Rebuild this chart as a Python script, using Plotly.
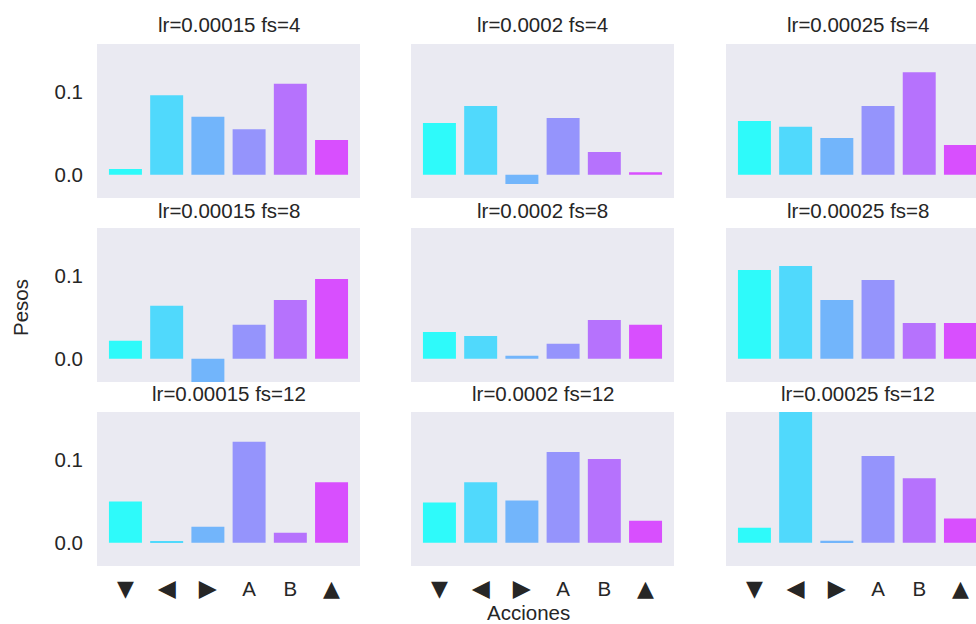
import plotly.graph_objects as go

# Action labels on the x axis
acciones = ["▼", "◀", "▶", "A", "B", "▲"]

# Hyper-parameter grid
learning_rates = ["0.00015", "0.0002", "0.00025"]
frame_skips = [4, 8, 12]

# Weights per (fs, lr) panel, one value per action
pesos_fs4_lr00015 = [0.007, 0.096, 0.070, 0.055, 0.110, 0.042]
pesos_fs4_lr0002 = [0.0625, 0.083, -0.011, 0.0685, 0.0275, 0.0032]
pesos_fs4_lr00025 = [0.065, 0.058, 0.0445, 0.083, 0.124, 0.036]

pesos_fs8_lr00015 = [0.0217, 0.064, -0.030, 0.041, 0.071, 0.0964]
pesos_fs8_lr0002 = [0.0325, 0.0277, 0.0036, 0.0181, 0.047, 0.041]
pesos_fs8_lr00025 = [0.1072, 0.112, 0.071, 0.0952, 0.0434, 0.0434]

pesos_fs12_lr00015 = [0.050, 0.0012, 0.0195, 0.122, 0.0122, 0.0732]
pesos_fs12_lr0002 = [0.0488, 0.0732, 0.0512, 0.1098, 0.1012, 0.0268]
pesos_fs12_lr00025 = [0.0183, 0.170, 0.0024, 0.1049, 0.078, 0.0293]

pesos = [
    [pesos_fs4_lr00015, pesos_fs4_lr0002, pesos_fs4_lr00025],
    [pesos_fs8_lr00015, pesos_fs8_lr0002, pesos_fs8_lr00025],
    [pesos_fs12_lr00015, pesos_fs12_lr0002, pesos_fs12_lr00025],
]

colores = ["#2efafa", "#50d9fc", "#72b5fb", "#9594fc", "#b672fd", "#d84ffe"]

W, H = 976, 624
FONT = "Liberation Sans, Arial, DejaVu Sans, sans-serif"
TXT = "#262626"
BG = "#eaeaf2"

# Panel geometry in pixels
col_px = [(97, 360), (411, 674), (726, 976)]
row_px = [(44, 198), (228, 382), (412, 566)]
title_y_px = [25, 210, 393]
x_ranges = [[-0.69, 5.69], [-0.69, 5.69], [-0.69, 5.378]]
y_range = [-0.028, 0.158]


def px_x(x):
    return x / W


def px_y(y):
    return 1 - y / H


def etiqueta(t):
    # arrow glyphs rendered with DejaVu Sans so they keep a solid, full size
    if t.isalpha():
        return t
    size = 23.5 if t in ("◀", "▶") else 22
    return f'<span style="font-family:DejaVu Sans;font-size:{size}px">{t}</span>'


fig = go.Figure()
annotations = []
layout_axes = {}

for r in range(3):
    for c in range(3):
        idx = r * 3 + c + 1
        xa = "x" if idx == 1 else f"x{idx}"
        ya = "y" if idx == 1 else f"y{idx}"
        fig.add_trace(go.Bar(
            x=list(range(len(acciones))),
            y=pesos[r][c],
            marker=dict(color=colores, line=dict(width=0)),
            xaxis=xa, yaxis=ya,
            showlegend=False,
        ))
        x0, x1 = col_px[c]
        y0, y1 = row_px[r]
        layout_axes[f"xaxis{'' if idx == 1 else idx}"] = dict(
            domain=[px_x(x0), px_x(x1)],
            anchor=ya,
            range=x_ranges[c],
            tickvals=list(range(len(acciones))),
            ticktext=[etiqueta(a) for a in acciones],
            showticklabels=(r == 2),
            showgrid=False, zeroline=False, showline=False,
            ticks="", ticklabelstandoff=8,
            tickfont=dict(size=20.5, color=TXT, family=FONT),
            fixedrange=True,
        )
        layout_axes[f"yaxis{'' if idx == 1 else idx}"] = dict(
            domain=[px_y(y1), px_y(y0)],
            anchor=xa,
            range=y_range,
            tickvals=[0.0, 0.1],
            ticktext=["0.0", "0.1"],
            showticklabels=(c == 0),
            showgrid=False, zeroline=False, showline=False,
            ticks="", ticklabelstandoff=13,
            tickfont=dict(size=20.5, color=TXT, family=FONT),
            fixedrange=True,
        )
        annotations.append(dict(
            text=f"lr={learning_rates[c]} fs={frame_skips[r]}",
            x=px_x((col_px[c][0] + col_px[c][0] + 263) / 2),
            y=px_y(title_y_px[r]),
            xref="paper", yref="paper",
            xanchor="center", yanchor="middle",
            showarrow=False,
            font=dict(size=20.5, color=TXT, family=FONT),
        ))

annotations.append(dict(
    text="Pesos", x=px_x(20), y=px_y(308), xref="paper", yref="paper",
    xanchor="center", yanchor="middle", textangle=-90, showarrow=False,
    font=dict(size=20.5, color=TXT, family=FONT),
))
annotations.append(dict(
    text="Acciones", x=px_x(528), y=px_y(612), xref="paper", yref="paper",
    xanchor="center", yanchor="middle", showarrow=False,
    font=dict(size=20.5, color=TXT, family=FONT),
))

# Gray panel backgrounds
shapes = []
for r in range(3):
    for c in range(3):
        shapes.append(dict(
            type="rect", xref="paper", yref="paper", layer="below",
            x0=px_x(col_px[c][0]), x1=px_x(col_px[c][1]),
            y0=px_y(row_px[r][1]), y1=px_y(row_px[r][0]),
            fillcolor=BG, line=dict(width=0),
        ))

fig.update_layout(
    width=W, height=H,
    margin=dict(l=0, r=0, t=0, b=0),
    paper_bgcolor="white",
    plot_bgcolor="rgba(0,0,0,0)",
    bargap=0.2,
    annotations=annotations,
    shapes=shapes,
    font=dict(family=FONT, color=TXT),
    **layout_axes,
)

fig.write_html("out.html", config={"displayModeBar": False})
